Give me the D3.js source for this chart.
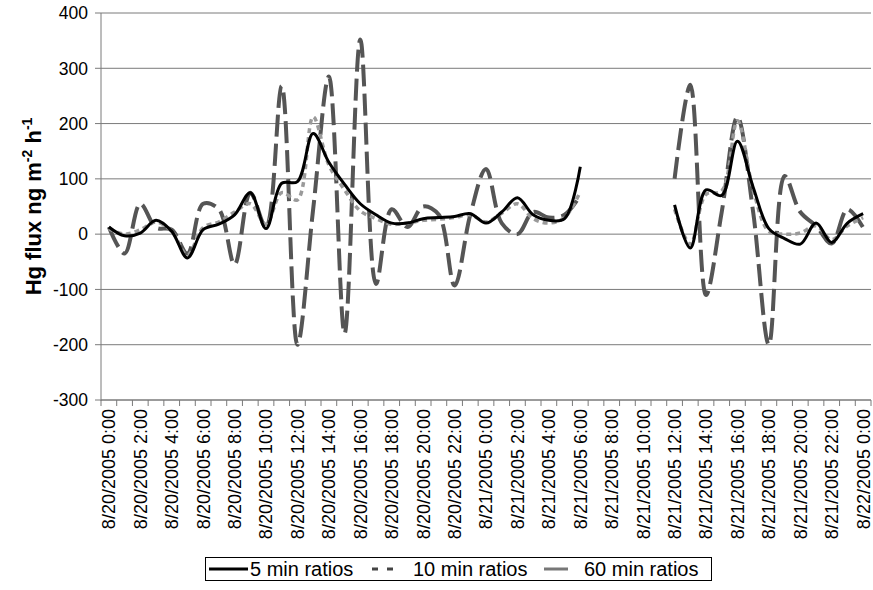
<!DOCTYPE html>
<html>
<head>
<meta charset="utf-8">
<script src="https://cdn.jsdelivr.net/npm/d3@7"></script>
<style>
  body { margin: 0; background: #fff; }
  svg { font-family: "Liberation Sans", Arial, sans-serif; }
</style>
</head>
<body>
<svg id="chart" width="873" height="590"></svg>
<script>
// hourly categories, 8/20/2005 0:00 .. 8/22/2005 0:00
const start = new Date(2005, 7, 20, 0);
const categories = d3.timeHour.range(start, d3.timeHour.offset(start, 49));

const tickLabels = [
  "8/20/2005 0:00", "8/20/2005 2:00", "8/20/2005 4:00", "8/20/2005 6:00",
  "8/20/2005 8:00", "8/20/2005 10:00", "8/20/2005 12:00", "8/20/2005 14:00",
  "8/20/2005 16:00", "8/20/2005 18:00", "8/20/2005 20:00", "8/20/2005 22:00",
  "8/21/2005 0:00", "8/21/2005 2:00", "8/21/2005 4:00", "8/21/2005 6:00",
  "8/21/2005 8:00", "8/21/2005 10:00", "8/21/2005 12:00", "8/21/2005 14:00",
  "8/21/2005 16:00", "8/21/2005 18:00", "8/21/2005 20:00", "8/21/2005 22:00",
  "8/22/2005 0:00"
];

const yTicks = [400, 300, 200, 100, 0, -100, -200, -300];

// Hg flux, ng m-2 h-1 (null = no data)
const fiveMin = [
  13, -3, 2, 25, 5, -43, 8, 18, 35, 75, 10, 92, 95, 182, 130, 90, 55,
  35, 20, 20, 28, 30, 32, 37, 20, 40, 66, 35, 25, 28, 122,
  null, null, null, null, null,
  53, -25, 80, 70, 168, 85, 10, -8, -18, 20, -15, 20, 37
];
const tenMin = [
  10, 0, 8, 22, 5, -38, 12, 22, 40, 55, 18, 75, 62, 212, 125, 80, 42,
  28, 18, 20, 25, 27, 30, 35, 22, 38, 55, 28, 20, 30, 77,
  null, null, null, null, null,
  45, -18, 72, 78, 205, 80, 5, 0, 2, 15, -10, 15, 30
];
const sixtyMin = [
  13, -35, 55, 12, 8, -35, 55, 45, -55, 75, 12, 268, -200, 45, 285, -180, 352,
  -90, 45, 13, 50, 35, -93, 35, 118, 20, 0, 40, 30, 35, 70,
  null, null, null, null, null,
  100, 270, -110, 40, 212, 40, -200, 105, 40, 15, -17, 45, 12
];

const margin = { left: 101, right: 871, top: 13, bottom: 400 };
const svg = d3.select("#chart");

const x = d3.scaleBand()
    .domain(categories)
    .range([margin.left, margin.right])
    .padding(0);

const y = d3.scaleLinear()
    .domain([-300, 400])
    .range([margin.bottom, margin.top]);

const cx = i => x(categories[i]) + x.bandwidth() / 2;

// gridlines
svg.append("g")
  .selectAll("line")
    .data(yTicks)
  .enter().append("line")
    .attr("x1", margin.left - 6)
    .attr("x2", margin.right)
    .attr("y1", d => y(d))
    .attr("y2", d => y(d))
    .attr("stroke", "#7a7a7a")
    .attr("stroke-width", 1);

// y axis line
svg.append("line")
    .attr("x1", margin.left).attr("x2", margin.left)
    .attr("y1", margin.top).attr("y2", margin.bottom + 1)
    .attr("stroke", "#7a7a7a");

// y tick labels
svg.append("g")
  .selectAll("text")
    .data(yTicks)
  .enter().append("text")
    .attr("x", 88)
    .attr("y", d => y(d))
    .attr("dy", "0.36em")
    .attr("text-anchor", "end")
    .attr("font-size", 17.5)
    .attr("fill", "#000")
    .text(d => d);

// x axis, ticks between categories
const xAxis = svg.append("g");
xAxis.append("line")
    .attr("x1", margin.left).attr("x2", margin.right)
    .attr("y1", margin.bottom).attr("y2", margin.bottom)
    .attr("stroke", "#7a7a7a");
xAxis.selectAll("line.tick")
    .data(d3.range(categories.length + 1))
  .enter().append("line")
    .attr("class", "tick")
    .attr("x1", i => margin.left + i * x.bandwidth())
    .attr("x2", i => margin.left + i * x.bandwidth())
    .attr("y1", margin.bottom)
    .attr("y2", margin.bottom + 6)
    .attr("stroke", "#7a7a7a");
xAxis.selectAll("text")
    .data(tickLabels)
  .enter().append("text")
    .attr("transform", (d, i) => `translate(${cx(i * 2)},${margin.bottom + 9}) rotate(-90)`)
    .attr("dy", "0.36em")
    .attr("text-anchor", "end")
    .attr("font-size", 18)
    .text(d => d);

// y axis title
const title = svg.append("text")
    .attr("transform", `translate(41,${(margin.top + margin.bottom) / 2}) rotate(-90)`)
    .attr("text-anchor", "middle")
    .attr("font-size", 22)
    .attr("font-weight", "bold");
title.append("tspan").text("Hg flux ng m");
title.append("tspan").attr("dy", -9).attr("font-size", 14).text("-2");
title.append("tspan").attr("dy", 9).text(" h");
title.append("tspan").attr("dy", -9).attr("font-size", 14).text("-1");

// series
const line = d3.line()
    .defined(d => d != null)
    .x((d, i) => cx(i))
    .y(d => y(d))
    .curve(d3.curveCatmullRom.alpha(0.5));

const plot = svg.append("g");

plot.append("path")
    .datum(sixtyMin)
    .attr("d", line)
    .attr("fill", "none")
    .attr("stroke", "#555")
    .attr("stroke-width", 4)
    .attr("stroke-dasharray", "22,7");

plot.append("path")
    .datum(tenMin)
    .attr("d", line)
    .attr("fill", "none")
    .attr("stroke", "#9a9a9a")
    .attr("stroke-width", 3.5)
    .attr("stroke-dasharray", "5,4");

plot.append("path")
    .datum(fiveMin)
    .attr("d", line)
    .attr("fill", "none")
    .attr("stroke", "#000")
    .attr("stroke-width", 3);

// legend
const legend = svg.append("g");
legend.append("rect")
    .attr("x", 205.5).attr("y", 557.5)
    .attr("width", 506).attr("height", 23)
    .attr("fill", "#fff")
    .attr("stroke", "#000");

legend.append("line")
    .attr("x1", 209).attr("x2", 248).attr("y1", 569).attr("y2", 569)
    .attr("stroke", "#000").attr("stroke-width", 3);
legend.append("text").attr("x", 250).attr("y", 576)
    .attr("font-size", 20).text("5 min ratios");

legend.append("line")
    .attr("x1", 372).attr("x2", 393).attr("y1", 569).attr("y2", 569)
    .attr("stroke", "#444").attr("stroke-width", 3)
    .attr("stroke-dasharray", "6,9");
legend.append("text").attr("x", 413).attr("y", 576)
    .attr("font-size", 20).text("10 min ratios");

legend.append("line")
    .attr("x1", 544).attr("x2", 568).attr("y1", 569).attr("y2", 569)
    .attr("stroke", "#777").attr("stroke-width", 3);
legend.append("text").attr("x", 584).attr("y", 576)
    .attr("font-size", 20).text("60 min ratios");
</script>
</body>
</html>
